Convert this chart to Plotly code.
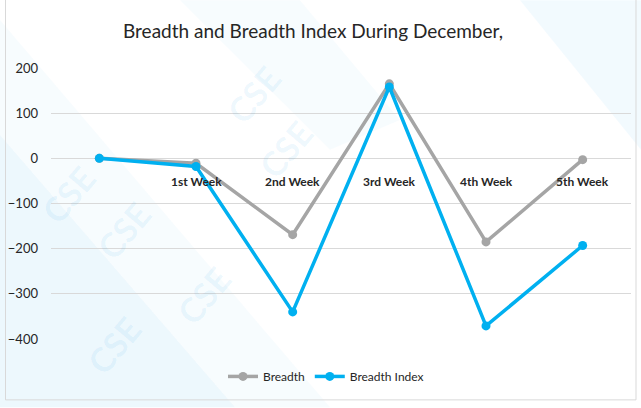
import plotly.graph_objects as go

categories = ["", "1st Week", "2nd Week", "3rd Week", "4th Week", "5th Week"]
breadth = [0, -11, -169, 165, -185, -3]
breadth_index = [0, -18, -340, 158, -371, -193]
y_ticks = [200, 100, 0, -100, -200, -300, -400]

W, H = 641, 408
L, T = 51, 68
R = W - 631
B = H - 339.5
pw, ph = W - L - R, H - T - B

def px(x):
    return (x - L) / pw

def py(y):
    return (H - B - y) / ph

FONT = "Lato, Open Sans, sans-serif"

fig = go.Figure()
fig.add_trace(go.Scatter(x=categories, y=breadth, name="Breadth", mode="lines+markers",
                         line=dict(color="#A5A5A5", width=3.5), marker=dict(size=9, color="#A5A5A5")))
fig.add_trace(go.Scatter(x=categories, y=breadth_index, name="Breadth Index", mode="lines+markers",
                         line=dict(color="#00B0F0", width=3.5), marker=dict(size=9, color="#00B0F0")))

shapes = []
def poly(pts, color):
    d = "M " + " L ".join(f"{px(a)},{py(b)}" for a, b in pts) + " Z"
    return dict(type="path", path=d, xref="paper", yref="paper", fillcolor=color,
                line=dict(width=0), layer="below")

shapes.append(poly([(0, 135), (0, 408), (235, 408)], "rgba(0,150,230,0.07)"))
shapes.append(poly([(0, 20), (0, 135), (235, 408), (330, 408)], "rgba(0,150,230,0.03)"))
shapes.append(poly([(520, 0), (641, 0), (641, 150)], "rgba(0,150,230,0.05)"))
shapes.append(poly([(180, 0), (300, 0), (400, 120), (330, 150)], "rgba(0,150,230,0.03)"))
shapes.append(dict(type="rect", xref="paper", yref="paper", x0=px(5.5), x1=px(636), y0=py(400.5), y1=py(-5),
                   line=dict(color="#D9D9D9", width=1), fillcolor="rgba(0,0,0,0)", layer="below"))

annotations = []
for c in categories[1:]:
    annotations.append(dict(x=c, y=0, xref="x", yref="y", text=f"<b>{c}</b>", showarrow=False,
                            yshift=-23, font=dict(family=FONT, size=12, color="#262626")))
for (xx, yy) in [(215, 55), (285, 110), (30, 195), (85, 270), (165, 335), (75, 385)]:
    annotations.append(dict(x=px(xx), y=py(yy), xref="paper", yref="paper", text="<b>CSE</b>",
                            showarrow=False, textangle=-50,
                            font=dict(family=FONT, size=34, color="rgba(0,150,230,0.07)")))

fig.update_layout(
    width=W, height=H,
    margin=dict(l=L, r=R, t=T, b=B, autoexpand=False),
    paper_bgcolor="white", plot_bgcolor="rgba(0,0,0,0)",
    title=dict(text="Breadth and Breadth Index During December,", x=px(313), xanchor="center",
               xref="paper", y=1 - 31 / H, yanchor="middle",
               font=dict(family=FONT, size=19, color="#262626")),
    xaxis=dict(type="category", range=[-0.5, 5.5], showticklabels=False, showgrid=False,
               zeroline=False, showline=False, ticks="", automargin=False),
    yaxis=dict(range=[-400, 200], tickvals=y_ticks, showgrid=True, gridcolor="#D9D9D9", gridwidth=1,
               zeroline=False, showline=False, ticks="", ticklabelstandoff=12, automargin=False,
               tickfont=dict(family=FONT, size=13, color="#262626")),
    legend=dict(orientation="h", x=px(326), xanchor="center", y=py(377), yanchor="middle",
                font=dict(family=FONT, size=12, color="#262626"),
                bgcolor="rgba(0,0,0,0)"),
    shapes=shapes, annotations=annotations,
)
fig.write_html("out.html", config={"displayModeBar": False},
               post_script="document.body.style.margin='0';document.body.style.overflow='hidden';")
